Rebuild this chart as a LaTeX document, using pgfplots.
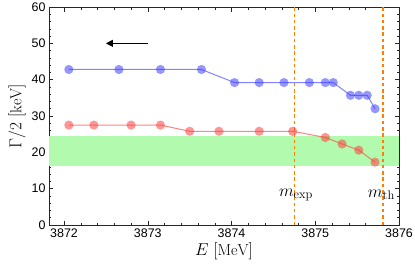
\documentclass[border=0pt]{standalone}
\usepackage{fontspec}
\usepackage{pgfplots}
\pgfplotsset{compat=1.18}
\usetikzlibrary{arrows.meta}
\newfontfamily\tickfont{Liberation Sans}
\definecolor{mblue}{rgb}{0.25,0.25,1}
\definecolor{mred}{rgb}{1,0.25,0.25}
\definecolor{morange}{rgb}{1,0.5,0}
\definecolor{mgreen}{rgb}{0.7,0.98,0.68}
\begin{document}
\begin{tikzpicture}
\begin{axis}[
  scale only axis, width=350bp, height=218bp,
  xmin=3871.82, xmax=3876, ymin=0, ymax=60,
  xtick={3872,3873,3874,3875,3876},
  ytick={0,10,20,30,40,50,60},
  minor x tick num=4, minor y tick num=4,
  tick align=inside,
  major tick length=4.5bp, minor tick length=2.5bp,
  xticklabel pos=lower, yticklabel pos=left,
  /pgf/number format/assume math mode=true,
  /pgf/number format/1000 sep={},
  tick label style={font=\tickfont\fontsize{12.5}{14}\selectfont},
  label style={font=\fontsize{16}{18}\selectfont},
  xlabel={$E\ [\mathrm{MeV}]$},
  ylabel={$\Gamma/2\ [\mathrm{keV}]$},
  xlabel style={yshift=2bp},
  ylabel style={yshift=-1bp},
  axis line style={black!85, line width=0.6pt},
  every tick/.style={black!85, line width=0.5pt},
  clip=true,
]
\addplot[draw=none, fill=mgreen] coordinates {(3871.82,16.2) (3876,16.2) (3876,24.5) (3871.82,24.5)} -- cycle;
\addplot[morange, line width=1.6pt, dash pattern=on 3.5bp off 2.8bp] coordinates {(3874.752,0) (3874.752,60)};
\addplot[morange, line width=1.6pt, dash pattern=on 3.5bp off 2.8bp] coordinates {(3875.81,0) (3875.81,60)};
\addplot[mblue, draw opacity=0.65, line width=1pt, mark=*, mark size=4.6bp,
  mark options={mblue, draw opacity=0, fill opacity=0.55}] coordinates {
(3872.057,42.8) (3872.655,42.8) (3873.151,42.8) (3873.641,42.8)
(3874.036,39.2) (3874.33,39.2) (3874.626,39.2) (3874.929,39.2)
(3875.12,39.2) (3875.215,39.2) (3875.42,35.7) (3875.52,35.7)
(3875.62,35.7) (3875.714,32.0)};
\addplot[mred, draw opacity=0.65, line width=1pt, mark=*, mark size=4.6bp,
  mark options={mred, draw opacity=0, fill opacity=0.55}] coordinates {
(3872.057,27.5) (3872.356,27.5) (3872.80,27.5) (3873.151,27.5)
(3873.50,25.8) (3873.85,25.8) (3874.33,25.8) (3874.73,25.8)
(3875.12,24.1) (3875.32,22.3) (3875.52,20.6) (3875.714,17.3)};
\draw[-{Triangle[length=7bp,width=7bp]}, line width=1pt] (axis cs:3873.0,50) -- (axis cs:3872.5,50);
\node[font=\fontsize{18}{20}\selectfont] at (axis cs:3874.77,8.3) {$m_{\mathrm{exp}}$};
\node[font=\fontsize{18}{20}\selectfont] at (axis cs:3875.79,8.3) {$m_{\mathrm{th}}$};
\end{axis}
\pgfresetboundingbox
\path (current axis.south west) ++(-49bp,-49bp) rectangle ++(415bp,274bp);
\end{tikzpicture}
\end{document}
